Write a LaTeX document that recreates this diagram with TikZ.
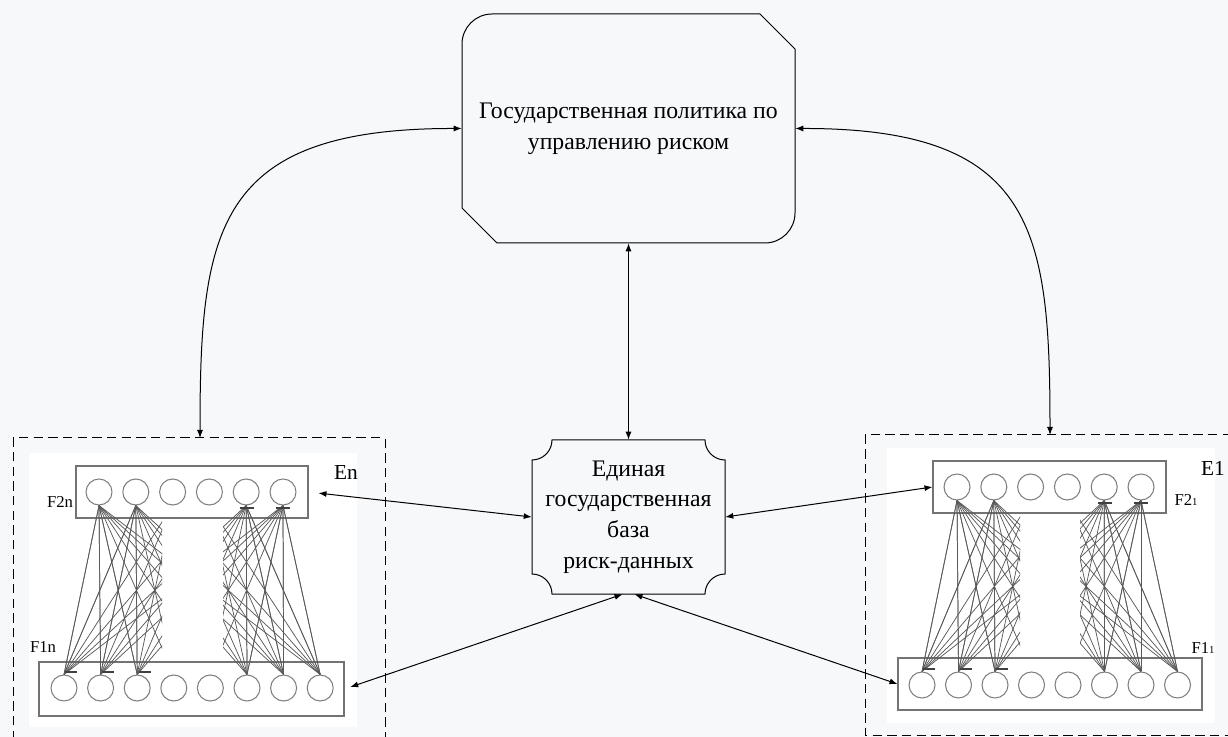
\documentclass[tikz,border=0pt]{standalone}
\usepackage{fontspec}
\setmainfont{Liberation Serif}
\usetikzlibrary{arrows.meta}
\definecolor{paper}{RGB}{247,248,250}
\tikzset{
  bigtext/.style  = {font=\fontsize{17.8}{23}\selectfont, align=center, inner sep=0pt},
  neuron/.style   = {circle, draw=black!50, line width=0.8pt, minimum size=19.5pt, inner sep=0pt},
  layerbox/.style = {draw=black!55, line width=0.8pt, inner sep=0pt},
  synapse/.style  = {draw=black!65, line width=0.55pt},
  link/.style     = {<->, line width=0.75pt},
  groupbox/.style = {line width=0.75pt, dash pattern=on 7pt off 4pt},
  tag/.style      = {font=\fontsize{12.5}{12.5}\selectfont, inner sep=0pt},
  bigtag/.style   = {font=\fontsize{16}{16}\selectfont, inner sep=0pt},
  clump/.style    = {line width=1.6pt, draw=black!75}
}

\begin{document}
\begin{tikzpicture}[x=0.75pt, y=-0.75pt, >={Latex[length=6pt,width=4.5pt]}]
    \useasboundingbox[fill=paper] (0,0) rectangle (1228,737);

    % policy
    \node [bigtext, minimum width=249.75pt, minimum height=171.75pt] (policy) at (628.5,128.5)
          {Государственная политика по\\управлению риском};
    \draw [line width=0.75pt] (462,44) .. controls (462,27.5) and (475.5,14) .. (492,14) -- (760,14)
          -- (795,49) -- (795,213) .. controls (795,229.5) and (781.5,243) .. (765,243)
          -- (497,243) -- (462,208) -- cycle;

    % data base
    \node [bigtext, minimum width=144.75pt, minimum height=115.5pt] (data) at (628.5,517)
          {Единая\\государственная\\база\\риск-данных};
    \draw [line width=0.75pt] (552,440) -- (705,440) .. controls (705,451) and (714,460) .. (725,460)
          -- (725,574) .. controls (714,574) and (705,583) .. (705,594)
          -- (552,594) .. controls (552,583) and (543,574) .. (532,574)
          -- (532,460) .. controls (543,460) and (552,451) .. (552,440) -- cycle;

    % group En
    \fill [white] (29,453) rectangle (357,727);
    \draw [groupbox] (13,740) -- (13,438) -- (385,438) -- (385,740);
    \coordinate (entop) at (200,438);
    \node [layerbox, minimum width=174pt, minimum height=39pt] (enF2) at (192,492) {};
    \node [layerbox, minimum width=228.75pt, minimum height=40.5pt] (enF1) at (191.5,689) {};
    \foreach \i in {1,...,6}
      \node [neuron] (ent\i) at ({99+36.8*(\i-1)},492) {};
    \foreach \i in {1,...,8}
      \node [neuron] (enb\i) at ({64+36.6*(\i-1)},688) {};
    \begin{scope}
      \clip (29,453) rectangle (162,727);
      \foreach \i in {1,2}
        \foreach \j in {1,...,8}
          \draw [synapse] (ent\i.south) -- (enb\j.north);
      \foreach \j in {1,2,3}
        \foreach \i in {1,...,6}
          \draw [synapse] (enb\j.north) -- (ent\i.south);
    \end{scope}
    \begin{scope}
      \clip (223,453) rectangle (357,727);
      \foreach \i in {5,6}
        \foreach \j in {1,...,8}
          \draw [synapse] (ent\i.south) -- (enb\j.north);
      \foreach \j in {6,7,8}
        \foreach \i in {1,...,6}
          \draw [synapse] (enb\j.north) -- (ent\i.south);
    \end{scope}
    \foreach \j in {1,2,3}
      \draw [clump] ([xshift=1pt,yshift=2pt]enb\j.north) -- ++(12,0);
    \foreach \i in {5,6}
      \draw [clump] ([xshift=-5pt,yshift=-2pt]ent\i.south) -- ++(14,0);
    \node [bigtag] (enname) at (346,473) {En};
    \node [tag] (enf2name) at (60,502) {F2n};
    \node [tag] (enf1name) at (43,647) {F1n};

    % group E1
    \fill [white] (887,448) rectangle (1215,723);
    \draw [groupbox] (1232,435) -- (865,435) -- (865,735) -- (1232,735);
    \coordinate (eotop) at (1050,435);
    \node [layerbox, minimum width=174.75pt, minimum height=39pt] (eoF2) at (1049.5,487) {};
    \node [layerbox, minimum width=228pt, minimum height=39pt] (eoF1) at (1050,684) {};
    \foreach \i in {1,...,6}
      \node [neuron] (eot\i) at ({957+36.8*(\i-1)},487) {};
    \foreach \i in {1,...,8}
      \node [neuron] (eob\i) at ({922+36.5*(\i-1)},685) {};
    \begin{scope}
      \clip (887,448) rectangle (1020,723);
      \foreach \i in {1,2}
        \foreach \j in {1,...,8}
          \draw [synapse] (eot\i.south) -- (eob\j.north);
      \foreach \j in {1,2,3}
        \foreach \i in {1,...,6}
          \draw [synapse] (eob\j.north) -- (eot\i.south);
    \end{scope}
    \begin{scope}
      \clip (1080,448) rectangle (1215,723);
      \foreach \i in {5,6}
        \foreach \j in {1,...,8}
          \draw [synapse] (eot\i.south) -- (eob\j.north);
      \foreach \j in {6,7,8}
        \foreach \i in {1,...,6}
          \draw [synapse] (eob\j.north) -- (eot\i.south);
    \end{scope}
    \foreach \j in {1,2,3}
      \draw [clump] ([xshift=1pt,yshift=2pt]eob\j.north) -- ++(12,0);
    \foreach \i in {5,6}
      \draw [clump] ([xshift=-5pt,yshift=-2pt]eot\i.south) -- ++(14,0);
    \node [bigtag] (eoname) at (1213,468) {E1};
    \node [tag] (eof2name) at (1186,500) {F2{\fontsize{8}{8}\selectfont 1}};
    \node [tag] (eof1name) at (1203,648) {F1{\fontsize{8}{8}\selectfont 1}};

    % links
    \draw [link] (policy.south) -- (data.north);
    \draw [link] (policy.west) .. controls (215,128) and (200,230) .. (entop);
    \draw [link] (policy.east) .. controls (1035,128) and (1050,230) .. (eotop);
    \draw [link, shorten >=7.5pt] (data.west) -- (enF2.east);
    \draw [link] (data.east) -- (eoF2.west);
    \draw [link, shorten >=4.5pt] ([xshift=-4.5pt]data.south) -- (enF1.east);
    \draw [link] ([xshift=4.5pt]data.south) -- (eoF1.west);
\end{tikzpicture}
\end{document}
